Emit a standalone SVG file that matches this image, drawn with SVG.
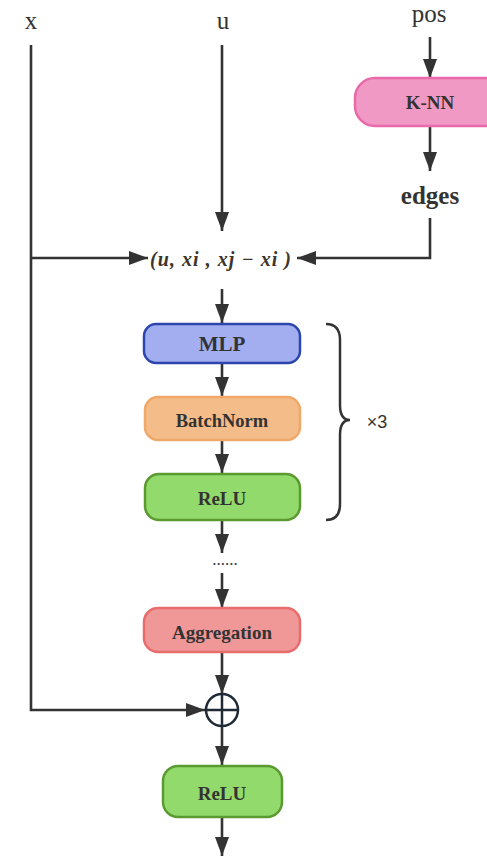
<svg xmlns="http://www.w3.org/2000/svg" width="487" height="856" viewBox="0 0 487 856">
  <style>
    .wire { fill: none; stroke: #333; stroke-width: 2.6; }
    .lbl { font-family: "Liberation Serif", serif; font-size: 25px; fill: #333; text-anchor: middle; }
    .box-t { font-family: "Liberation Serif", serif; font-weight: bold; fill: #333; text-anchor: middle; dominant-baseline: central; }
  </style>
  <defs>
    <marker id="arr" viewBox="0 0 19 14" refX="19" refY="7" markerWidth="19" markerHeight="14" markerUnits="userSpaceOnUse" orient="auto">
      <path d="M0,0 L19,7 L0,14 Z" fill="#333"/>
    </marker>
  </defs>

  <!-- input labels -->
  <text class="lbl" x="31" y="29">x</text>
  <text class="lbl" x="223" y="29">u</text>
  <text class="lbl" x="429" y="22">pos</text>

  <g id="connectors">
    <!-- x skip path to the sum node and into the concat -->
    <path class="wire" d="M31,45 V710 H205" marker-end="url(#arr)"/>
    <path class="wire" d="M31,258 H148" marker-end="url(#arr)"/>
    <!-- u input -->
    <path class="wire" d="M222,45 V231" marker-end="url(#arr)"/>
    <!-- pos to K-NN -->
    <path class="wire" d="M430,37 V78" marker-end="url(#arr)"/>
    <path class="wire" d="M430,126 V171" marker-end="url(#arr)"/>
    <!-- edges into concat -->
    <path class="wire" d="M430,218 V258 H297" marker-end="url(#arr)"/>
    <!-- main chain -->
    <path class="wire" d="M222,289 V323" marker-end="url(#arr)"/>
    <path class="wire" d="M222,363 V396" marker-end="url(#arr)"/>
    <path class="wire" d="M222,440 V473" marker-end="url(#arr)"/>
    <path class="wire" d="M222,520 V553" marker-end="url(#arr)"/>
    <path class="wire" d="M222,573 V608" marker-end="url(#arr)"/>
    <path class="wire" d="M222,652 V694" marker-end="url(#arr)"/>
    <path class="wire" d="M222,726 V765" marker-end="url(#arr)"/>
    <path class="wire" d="M222,817 V856" marker-end="url(#arr)"/>
  </g>

  <g id="knn">
    <rect x="355" y="78" width="150" height="48" rx="20" fill="#f199c5" stroke="#e96aaa" stroke-width="2.5"/>
    <text class="box-t" x="430" y="102" font-size="19">K-NN</text>
  </g>

  <g id="edges">
    <text x="430" y="204" font-family="Liberation Serif, serif" font-weight="bold" font-size="25" fill="#333" text-anchor="middle">edges</text>
  </g>

  <g id="concat">
    <text x="150" y="266" textLength="141" lengthAdjust="spacing" font-family="Liberation Serif, serif" font-style="italic" font-weight="bold" font-size="20" fill="#3d352c">(u, xi , xj − xi )</text>
  </g>

  <g id="mlp">
    <rect x="144" y="324" width="156" height="39" rx="12" fill="#a3aef1" stroke="#2d46ad" stroke-width="2.5"/>
    <text class="box-t" x="222" y="344" font-size="21">MLP</text>
  </g>

  <g id="batchnorm">
    <rect x="145" y="397" width="155" height="43" rx="13" fill="#f3bc88" stroke="#f0a869" stroke-width="2.5"/>
    <text class="box-t" x="222" y="421" font-size="18.5">BatchNorm</text>
  </g>

  <g id="relu1">
    <rect x="145" y="474" width="155" height="46" rx="14" fill="#92da6b" stroke="#5a9a30" stroke-width="2.5"/>
    <text class="box-t" x="222" y="498" font-size="19">ReLU</text>
  </g>

  <g id="repeat">
    <path d="M326,324 Q340,324 340,340 V405 Q340,420 350,420 Q340,420 340,435 V504 Q340,520 326,520" fill="none" stroke="#333" stroke-width="2.5"/>
    <text x="377" y="428" font-family="Liberation Sans, sans-serif" font-size="18" fill="#333" text-anchor="middle">×3</text>
  </g>

  <g id="ellipsis">
    <text x="225" y="565" font-family="Liberation Serif, serif" font-size="17" fill="#334" text-anchor="middle">......</text>
  </g>

  <g id="aggregation">
    <rect x="144" y="608" width="156" height="44" rx="14" fill="#f09898" stroke="#e86c6c" stroke-width="2.5"/>
    <text class="box-t" x="222" y="632" font-size="19">Aggregation</text>
  </g>

  <g id="sum">
    <circle cx="222" cy="710" r="16" fill="none" stroke="#1f2a36" stroke-width="2.5"/>
    <path d="M206,710 H238 M222,694 V726" stroke="#1f2a36" stroke-width="2.5"/>
  </g>

  <g id="relu2">
    <rect x="163" y="766" width="119" height="51" rx="15" fill="#92da6b" stroke="#5a9a30" stroke-width="2.5"/>
    <text class="box-t" x="222" y="793" font-size="19">ReLU</text>
  </g>
</svg>
